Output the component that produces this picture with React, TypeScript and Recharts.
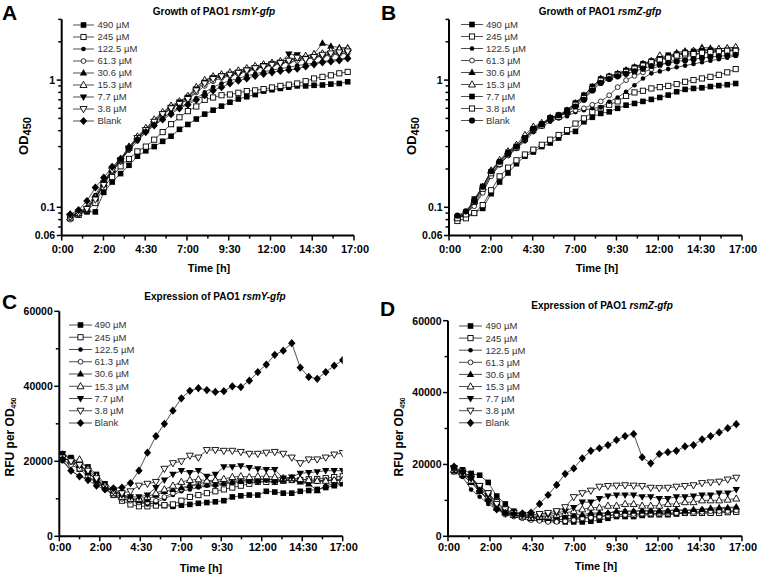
import React from 'react';
import { LineChart, Line, XAxis, YAxis } from 'recharts';

// ---------------- data ----------------
const sampleNo = [1, 2, 3, 4, 5, 6, 7, 8, 9, 10, 11, 12, 13, 14, 15, 16, 17, 18, 19, 20, 21, 22, 23, 24, 25, 26, 27, 28, 29, 30, 31, 32, 33, 34];
const seriesLabels = ['490 µM', '245 µM', '122.5 µM', '61.3 µM', '30.6 µM', '15.3 µM', '7.7 µM', '3.8 µM', 'Blank'];
const timeTickLabels = ['0:00', '2:00', '4:30', '7:00', '9:30', '12:00', '14:30', '17:00'];
const odTickValues = [0.06, 0.07, 0.08, 0.09, 0.1, 0.2, 0.3, 0.4, 0.5, 0.6, 0.7, 0.8, 0.9, 1, 2, 3];
const odTickLabelled = [0.06, 0.1, 1];
const rfuTickValues = [0, 10000, 20000, 30000, 40000, 50000, 60000];
const rfuTickLabelled = [0, 20000, 40000, 60000];

// Panel A: growth rsmY-gfp (OD450)
const a490 = [0.085, 0.088, 0.092, 0.092, 0.131, 0.158, 0.184, 0.214, 0.252, 0.278, 0.300, 0.330, 0.362, 0.410, 0.448, 0.494, 0.540, 0.580, 0.624, 0.670, 0.710, 0.740, 0.770, 0.820, 0.840, 0.860, 0.880, 0.900, 0.900, 0.910, 0.915, 0.930, 0.940, 0.970];
const a245 = [0.082, 0.087, 0.095, 0.108, 0.144, 0.173, 0.210, 0.240, 0.275, 0.300, 0.340, 0.390, 0.450, 0.510, 0.570, 0.620, 0.700, 0.730, 0.760, 0.770, 0.795, 0.820, 0.830, 0.850, 0.875, 0.900, 0.920, 0.940, 0.980, 1.030, 1.060, 1.090, 1.130, 1.160];
const a122 = [0.085, 0.092, 0.100, 0.125, 0.160, 0.200, 0.235, 0.280, 0.330, 0.390, 0.450, 0.500, 0.560, 0.610, 0.660, 0.720, 0.800, 0.880, 0.940, 0.990, 1.030, 1.080, 1.120, 1.160, 1.200, 1.230, 1.260, 1.300, 1.330, 1.360, 1.400, 1.430, 1.460, 1.500];
const a61 = [0.080, 0.088, 0.097, 0.118, 0.150, 0.190, 0.230, 0.285, 0.345, 0.400, 0.460, 0.530, 0.600, 0.650, 0.700, 0.800, 0.900, 0.980, 1.040, 1.080, 1.120, 1.170, 1.220, 1.270, 1.310, 1.350, 1.390, 1.420, 1.460, 1.500, 1.540, 1.570, 1.600, 1.620];
const a30 = [0.084, 0.090, 0.096, 0.118, 0.152, 0.195, 0.235, 0.290, 0.355, 0.410, 0.480, 0.550, 0.620, 0.660, 0.730, 0.870, 0.990, 1.060, 1.100, 1.130, 1.170, 1.220, 1.270, 1.320, 1.360, 1.400, 1.440, 1.480, 1.540, 1.600, 1.950, 1.850, 1.800, 1.800];
const a15 = [0.083, 0.090, 0.098, 0.120, 0.155, 0.200, 0.240, 0.300, 0.360, 0.420, 0.490, 0.560, 0.630, 0.680, 0.750, 0.880, 1.000, 1.070, 1.110, 1.150, 1.190, 1.240, 1.290, 1.330, 1.370, 1.410, 1.450, 1.500, 1.550, 1.600, 1.620, 1.700, 1.750, 1.770];
const a7 = [0.085, 0.091, 0.095, 0.118, 0.155, 0.198, 0.236, 0.292, 0.350, 0.400, 0.470, 0.540, 0.610, 0.670, 0.730, 0.850, 0.960, 1.040, 1.080, 1.110, 1.150, 1.200, 1.250, 1.300, 1.340, 1.380, 1.600, 1.580, 1.480, 1.520, 1.560, 1.600, 1.620, 1.640];
const a3 = [0.084, 0.090, 0.097, 0.115, 0.150, 0.195, 0.232, 0.288, 0.350, 0.405, 0.470, 0.540, 0.600, 0.650, 0.710, 0.830, 0.940, 1.020, 1.070, 1.100, 1.140, 1.190, 1.240, 1.280, 1.320, 1.360, 1.420, 1.500, 1.460, 1.520, 1.580, 1.620, 1.650, 1.680];
const aBlank = [0.088, 0.095, 0.112, 0.143, 0.171, 0.208, 0.240, 0.295, 0.340, 0.390, 0.440, 0.490, 0.540, 0.600, 0.640, 0.700, 0.760, 0.830, 0.880, 0.940, 0.990, 1.030, 1.080, 1.120, 1.150, 1.180, 1.200, 1.230, 1.280, 1.330, 1.380, 1.400, 1.430, 1.480];

// Panel B: growth rsmZ-gfp (OD450)
const b490 = [0.082, 0.086, 0.090, 0.098, 0.128, 0.158, 0.186, 0.220, 0.252, 0.272, 0.300, 0.320, 0.350, 0.390, 0.395, 0.470, 0.510, 0.547, 0.563, 0.600, 0.635, 0.655, 0.680, 0.705, 0.730, 0.762, 0.810, 0.845, 0.860, 0.870, 0.890, 0.905, 0.920, 0.940];
const b245 = [0.078, 0.082, 0.090, 0.104, 0.136, 0.175, 0.205, 0.234, 0.260, 0.284, 0.310, 0.340, 0.370, 0.404, 0.455, 0.500, 0.560, 0.600, 0.640, 0.680, 0.750, 0.800, 0.824, 0.860, 0.880, 0.900, 0.930, 0.970, 1.000, 1.030, 1.060, 1.100, 1.150, 1.220];
const b122 = [0.084, 0.090, 0.105, 0.135, 0.180, 0.220, 0.255, 0.290, 0.330, 0.390, 0.430, 0.470, 0.500, 0.520, 0.560, 0.580, 0.600, 0.610, 0.675, 0.730, 0.810, 0.910, 1.030, 1.130, 1.170, 1.220, 1.260, 1.300, 1.340, 1.380, 1.420, 1.460, 1.500, 1.550];
const b61 = [0.082, 0.089, 0.102, 0.130, 0.175, 0.215, 0.255, 0.290, 0.340, 0.400, 0.440, 0.490, 0.520, 0.550, 0.580, 0.600, 0.640, 0.680, 0.760, 0.880, 1.000, 1.080, 1.150, 1.220, 1.300, 1.380, 1.450, 1.520, 1.580, 1.620, 1.650, 1.680, 1.700, 1.720];
const b30 = [0.084, 0.090, 0.115, 0.145, 0.193, 0.230, 0.272, 0.302, 0.354, 0.420, 0.450, 0.510, 0.530, 0.580, 0.663, 0.760, 0.886, 1.030, 1.075, 1.130, 1.200, 1.270, 1.350, 1.420, 1.450, 1.540, 1.640, 1.700, 1.650, 1.810, 1.780, 1.770, 1.780, 1.800];
const b15 = [0.083, 0.089, 0.112, 0.143, 0.195, 0.235, 0.275, 0.310, 0.370, 0.430, 0.460, 0.500, 0.520, 0.570, 0.650, 0.740, 0.870, 1.000, 1.060, 1.110, 1.180, 1.250, 1.320, 1.400, 1.560, 1.520, 1.600, 1.650, 1.700, 1.750, 1.720, 1.760, 1.780, 1.820];
const b7 = [0.084, 0.091, 0.116, 0.146, 0.190, 0.226, 0.270, 0.300, 0.350, 0.415, 0.450, 0.505, 0.530, 0.580, 0.660, 0.760, 0.890, 1.020, 1.070, 1.120, 1.190, 1.260, 1.340, 1.410, 1.470, 1.570, 1.600, 1.650, 1.680, 1.700, 1.720, 1.700, 1.710, 1.720];
const b3 = [0.082, 0.088, 0.110, 0.140, 0.185, 0.220, 0.262, 0.295, 0.345, 0.405, 0.440, 0.495, 0.515, 0.560, 0.640, 0.720, 0.850, 0.990, 1.050, 1.100, 1.160, 1.230, 1.300, 1.380, 1.440, 1.500, 1.560, 1.620, 1.600, 1.640, 1.660, 1.680, 1.700, 1.700];
const bBlank = [0.086, 0.093, 0.112, 0.145, 0.192, 0.228, 0.265, 0.300, 0.350, 0.410, 0.450, 0.500, 0.530, 0.560, 0.620, 0.700, 0.830, 0.950, 1.020, 1.070, 1.120, 1.170, 1.230, 1.290, 1.330, 1.360, 1.400, 1.430, 1.460, 1.490, 1.520, 1.540, 1.560, 1.580];

// Panel C: expression rsmY-gfp (RFU per OD450)
const c490 = [22000, 21000, 19500, 18500, 16500, 14000, 12500, 11500, 10000, 9500, 9000, 8500, 8200, 8000, 8300, 8500, 8800, 9000, 9200, 9500, 10500, 10800, 11000, 11000, 12000, 11800, 11500, 11500, 12000, 12200, 12500, 13000, 13500, 14000];
const c245 = [21000, 20000, 18000, 17000, 15000, 13000, 11000, 9500, 8500, 8000, 8000, 8200, 8300, 8500, 9500, 10500, 11000, 11500, 12000, 12500, 13000, 13500, 14000, 14500, 14500, 14500, 14800, 15000, 15000, 15200, 15300, 15500, 15800, 16000];
const c122 = [20000, 17500, 16000, 15500, 14500, 13000, 11000, 10000, 9500, 9000, 8500, 9000, 10000, 11000, 12000, 12500, 13000, 13500, 13500, 14000, 14200, 14500, 14500, 14500, 14800, 14500, 15000, 14800, 14500, 14000, 14500, 14800, 15000, 14800];
const c61 = [20500, 19000, 18000, 16000, 14500, 12500, 11000, 10000, 9500, 9000, 9000, 9500, 10500, 11500, 12500, 13500, 14000, 14500, 14800, 14500, 15000, 15000, 15000, 15000, 15200, 15000, 15000, 15000, 14800, 14500, 14800, 15000, 15000, 15200];
const c30 = [22000, 20500, 19000, 17000, 15000, 13500, 12000, 11000, 10000, 9500, 9800, 11000, 12000, 12500, 13000, 13500, 13500, 13800, 14000, 14200, 14500, 14800, 15000, 15000, 15300, 15000, 15000, 15500, 14500, 14000, 12200, 13500, 14000, 14200];
const c15 = [21000, 20000, 20500, 18000, 16000, 13500, 11500, 10500, 10000, 10000, 10500, 11500, 12500, 13500, 14500, 15000, 15200, 14800, 15000, 15300, 15800, 16000, 15800, 16000, 16000, 15800, 15500, 15500, 15300, 15000, 14800, 14800, 15000, 15000];
const c7 = [22000, 20500, 19000, 17000, 15000, 13000, 12000, 11000, 10500, 10500, 11000, 13000, 15000, 16500, 17500, 17000, 17500, 16000, 16500, 18500, 18500, 18800, 18300, 18000, 17800, 17800, 15500, 15800, 16800, 17000, 17200, 17500, 17500, 17500];
const c3 = [21000, 20000, 19000, 17500, 15500, 13000, 12000, 11500, 12000, 13500, 14000, 14500, 18000, 19500, 20000, 21500, 21000, 23000, 23000, 22800, 22800, 22500, 22000, 22000, 22300, 22500, 22000, 21000, 19500, 20500, 20500, 21000, 21800, 22200];
const cBlank = [20500, 17500, 16000, 15000, 13500, 12500, 12800, 13000, 14200, 17500, 22300, 26700, 30000, 33500, 36800, 38800, 39500, 39000, 38500, 38700, 40000, 39800, 41500, 43800, 45800, 48400, 49500, 51500, 45000, 42500, 42000, 43800, 45500, 47000];

// Panel D: expression rsmZ-gfp (RFU per OD450)
const d490 = [18000, 18500, 17500, 17000, 15000, 11200, 9000, 7000, 6000, 5500, 5000, 4500, 4200, 4000, 4000, 4000, 4200, 4500, 5000, 5500, 5500, 5500, 5800, 6000, 6000, 6000, 6200, 6500, 6500, 6500, 6500, 6800, 6800, 7000];
const d245 = [19000, 17500, 16000, 14000, 12000, 9500, 7500, 6000, 5500, 5000, 4800, 4500, 4500, 4800, 5000, 5000, 5500, 5500, 5800, 6000, 6000, 6000, 6200, 6200, 6300, 6300, 6500, 6500, 6500, 6500, 6500, 6500, 6700, 6800];
const d122 = [18000, 16500, 13000, 11000, 9000, 7500, 6500, 5800, 5500, 5200, 4800, 4500, 4500, 4800, 5000, 5500, 6000, 6300, 6500, 6800, 7000, 7000, 7200, 7200, 7000, 7200, 7300, 7300, 7300, 7500, 7500, 7600, 7800, 8000];
const d61 = [18000, 17000, 15000, 12500, 10000, 7500, 6000, 5500, 5000, 4500, 4300, 4000, 4000, 4200, 4500, 5000, 5200, 5500, 5800, 6000, 6000, 6200, 6300, 6300, 6500, 6500, 6500, 6500, 6800, 6800, 7000, 7000, 7000, 7200];
const d30 = [18500, 17000, 15000, 12500, 10500, 8000, 6500, 5800, 5500, 5000, 5200, 5000, 5500, 5500, 6000, 6000, 6500, 6500, 6500, 7000, 7000, 7000, 7000, 7000, 7000, 7000, 7500, 7000, 7500, 7500, 7800, 8000, 8000, 8200];
const d15 = [18500, 17500, 15500, 13000, 11000, 8000, 6800, 6000, 5500, 5200, 5500, 5500, 6000, 6500, 7000, 7500, 8000, 8000, 8500, 8500, 9000, 9000, 8500, 8500, 8500, 9000, 9000, 9500, 9500, 10000, 10000, 10000, 10200, 10500];
const d7 = [18500, 17500, 16000, 13500, 11500, 8500, 7000, 6000, 5800, 5500, 5800, 6000, 6500, 7000, 8000, 9500, 9500, 10500, 11200, 11500, 11500, 11500, 11000, 11000, 10500, 10500, 11000, 11000, 11200, 11500, 11500, 12000, 12000, 13000];
const d3 = [19000, 18000, 16500, 14000, 12000, 9000, 7500, 6500, 6000, 6000, 6200, 6500, 7000, 8100, 10900, 12000, 12700, 13800, 14000, 14100, 14200, 14100, 14000, 13500, 13400, 13500, 13800, 14000, 14200, 14800, 15000, 15200, 15800, 16300];
const dBlank = [19400, 18000, 16600, 12700, 10000, 7500, 6500, 6200, 6400, 6600, 9000, 11500, 14300, 17400, 18900, 21700, 23800, 24500, 25400, 26800, 27900, 28500, 22000, 20300, 22900, 23400, 23800, 25000, 25400, 27000, 27900, 28900, 30100, 31200];

// ---------------- styling / layout ----------------
const FONT = '"Liberation Sans", Arial, Helvetica, sans-serif';
type Shape = 'sqF' | 'sqO' | 'cirS' | 'cirO' | 'cirF' | 'triUF' | 'triUO' | 'triDF' | 'triDO' | 'dia';
const shapesStd: Shape[] = ['sqF', 'sqO', 'cirS', 'cirO', 'triUF', 'triUO', 'triDF', 'triDO', 'dia'];
const shapesB: Shape[] = ['sqF', 'sqO', 'cirS', 'cirO', 'triUF', 'triUO', 'sqF', 'sqO', 'cirF'];

function Marker({ shape, cx, cy }: { shape: Shape; cx: number; cy: number }) {
  const k = '#000';
  const sw = 0.9;
  switch (shape) {
    case 'sqF':
      return <rect x={cx - 2.8} y={cy - 2.8} width={5.6} height={5.6} fill={k} />;
    case 'sqO':
      return <rect x={cx - 2.6} y={cy - 2.6} width={5.2} height={5.2} fill="#fff" stroke={k} strokeWidth={sw} />;
    case 'cirS':
      return <circle cx={cx} cy={cy} r={2.3} fill={k} />;
    case 'cirO':
      return <circle cx={cx} cy={cy} r={2.4} fill="#fff" stroke={k} strokeWidth={0.8} />;
    case 'cirF':
      return <circle cx={cx} cy={cy} r={3.1} fill={k} />;
    case 'triUF':
      return <polygon points={`${cx},${cy - 3.9} ${cx + 3.7},${cy + 2.6} ${cx - 3.7},${cy + 2.6}`} fill={k} />;
    case 'triUO':
      return <polygon points={`${cx},${cy - 3.7} ${cx + 3.5},${cy + 2.5} ${cx - 3.5},${cy + 2.5}`} fill="#fff" stroke={k} strokeWidth={sw} />;
    case 'triDF':
      return <polygon points={`${cx},${cy + 3.9} ${cx + 3.7},${cy - 2.6} ${cx - 3.7},${cy - 2.6}`} fill={k} />;
    case 'triDO':
      return <polygon points={`${cx},${cy + 3.7} ${cx + 3.5},${cy - 2.5} ${cx - 3.5},${cy - 2.5}`} fill="#fff" stroke={k} strokeWidth={sw} />;
    case 'dia':
    default:
      return <polygon points={`${cx},${cy - 4.1} ${cx + 3.7},${cy} ${cx},${cy + 4.1} ${cx - 3.7},${cy}`} fill={k} />;
  }
}

interface PanelCfg {
  id: string;
  left: number;
  right: number;
  top: number;
  bottom: number;
  xDomain: [number, number];
  log: boolean;
  yDomain: [number, number];
  yTicks: number[];
  yLabelled: number[];
  series: number[][];
  shapes: Shape[];
  xTickBaseline: number;
}

const panels: PanelCfg[] = [
  {
    id: 'A', left: 61.7, right: 354, top: 19.4, bottom: 235.5, xDomain: [0, 34.75], log: true,
    yDomain: [0.06, 3], yTicks: odTickValues, yLabelled: odTickLabelled,
    series: [a490, a245, a122, a61, a30, a15, a7, a3, aBlank], shapes: shapesStd, xTickBaseline: 252.5,
  },
  {
    id: 'B', left: 449, right: 742, top: 19.4, bottom: 235.5, xDomain: [0, 34.75], log: true,
    yDomain: [0.06, 3], yTicks: odTickValues, yLabelled: odTickLabelled,
    series: [b490, b245, b122, b61, b30, b15, b7, b3, bBlank], shapes: shapesB, xTickBaseline: 252.5,
  },
  {
    id: 'C', left: 59.3, right: 342.7, top: 311.3, bottom: 536.3, xDomain: [0.62, 34.0], log: false,
    yDomain: [0, 60000], yTicks: rfuTickValues, yLabelled: rfuTickLabelled,
    series: [c490, c245, c122, c61, c30, c15, c7, c3, cBlank], shapes: shapesStd, xTickBaseline: 551,
  },
  {
    id: 'D', left: 448, right: 742, top: 320.7, bottom: 536.3, xDomain: [0.3, 34.67], log: false,
    yDomain: [0, 60000], yTicks: rfuTickValues, yLabelled: rfuTickLabelled,
    series: [d490, d245, d122, d61, d30, d15, d7, d3, dBlank], shapes: shapesStd, xTickBaseline: 551,
  },
];

const W = 758;
const H = 575;
const Y_AXIS_W = 40;
const X_AXIS_H = 20;

function xTicksFor(d: [number, number]) {
  const out: number[] = [];
  for (let k = 0; k <= 14; k++) out.push(d[0] + ((d[1] - d[0]) * k) / 14);
  return out;
}

function PanelChart({ cfg }: { cfg: PanelCfg }) {
  const rows = sampleNo.map((s, i) => {
    const r: Record<string, number> = { s };
    cfg.series.forEach((ser, j) => {
      r[`v${j}`] = ser[i];
    });
    return r;
  });
  const xt = xTicksFor(cfg.xDomain);
  const margin = {
    top: cfg.top,
    left: cfg.left - Y_AXIS_W,
    right: W - cfg.right,
    bottom: H - cfg.bottom - X_AXIS_H,
  };

  const renderXTick = (p: any) => {
    const v = p.payload.value as number;
    const k = Math.round(((v - cfg.xDomain[0]) / (cfg.xDomain[1] - cfg.xDomain[0])) * 14);
    const major = k % 2 === 0;
    return (
      <g key={`xt-${cfg.id}-${k}`}>
        <line x1={p.x} x2={p.x} y1={cfg.bottom} y2={cfg.bottom + (major ? 5 : 3)} stroke="#000" strokeWidth={1.5} />
        {major && (
          <text x={p.x + 1} y={cfg.xTickBaseline} textAnchor="middle" fontFamily={FONT} fontWeight="bold" fontSize={11} fill="#000">
            {timeTickLabels[k / 2]}
          </text>
        )}
      </g>
    );
  };

  const renderYTick = (p: any) => {
    const v = p.payload.value as number;
    const labelled = cfg.yLabelled.some((t) => Math.abs(t - v) < 1e-9);
    return (
      <g key={`yt-${cfg.id}-${v}`}>
        <line x1={cfg.left - (labelled ? 5 : 3.5)} x2={cfg.left} y1={p.y} y2={p.y} stroke="#000" strokeWidth={1.5} />
        {labelled && (
          <text x={cfg.left - 6.5} y={p.y + 3.8} textAnchor="end" fontFamily={FONT} fontWeight="bold" fontSize={10.5} fill="#000">
            {String(v)}
          </text>
        )}
      </g>
    );
  };

  return (
    <div style={{ position: 'absolute', left: 0, top: 0 }}>
      <LineChart width={W} height={H} data={rows} margin={margin}>
        <XAxis
          dataKey="s"
          type="number"
          domain={cfg.xDomain}
          ticks={xt}
          interval={0}
          allowDataOverflow
          height={X_AXIS_H}
          axisLine={{ stroke: '#000', strokeWidth: 2 }}
          tickLine={false}
          tick={renderXTick}
        />
        <YAxis
          type="number"
          scale={cfg.log ? 'log' : 'linear'}
          domain={cfg.yDomain}
          ticks={cfg.yTicks}
          interval={0}
          allowDataOverflow
          width={Y_AXIS_W}
          axisLine={{ stroke: '#000', strokeWidth: 2 }}
          tickLine={false}
          tick={renderYTick}
        />
        {cfg.series.map((_, j) => (
          <Line
            key={`${cfg.id}-l${j}`}
            dataKey={`v${j}`}
            type="linear"
            stroke="#222"
            strokeWidth={0.8}
            isAnimationActive={false}
            activeDot={false}
            dot={(p: any) => {
              if (p.cx == null || p.cy == null || isNaN(p.cx) || isNaN(p.cy)) return <g key={`${cfg.id}-d${j}-${p.index}`} />;
              return (
                <g key={`${cfg.id}-d${j}-${p.index}`}>
                  <Marker shape={cfg.shapes[j]} cx={p.cx} cy={p.cy} />
                </g>
              );
            }}
          />
        ))}
      </LineChart>
    </div>
  );
}

interface LegendCfg {
  shapes: Shape[];
  x0: number;
  x1: number;
  tx: number;
  y0: number;
  step: number;
}

const legends: LegendCfg[] = [
  { shapes: shapesStd, x0: 73, x1: 94, tx: 97.5, y0: 25, step: 12 },
  { shapes: shapesB, x0: 461, x1: 483, tx: 486, y0: 24.5, step: 12 },
  { shapes: shapesStd, x0: 69, x1: 92, tx: 94.5, y0: 325, step: 12.25 },
  { shapes: shapesStd, x0: 459, x1: 482, tx: 485.5, y0: 326, step: 12.1 },
];

function Legends() {
  return (
    <g>
      {legends.map((lg, li) => (
        <g key={`lg${li}`}>
          {seriesLabels.map((lab, j) => {
            const y = lg.y0 + j * lg.step;
            const cx = (lg.x0 + lg.x1) / 2;
            return (
              <g key={`lg${li}-${j}`}>
                <line x1={lg.x0} x2={lg.x1} y1={y} y2={y} stroke="#222" strokeWidth={0.8} />
                <Marker shape={lg.shapes[j]} cx={cx} cy={y} />
                <text x={lg.tx} y={y + 3.4} fontFamily={FONT} fontSize={9.5} fill="#333">
                  {lab}
                </text>
              </g>
            );
          })}
        </g>
      ))}
    </g>
  );
}

function Labels() {
  const bold = { fontFamily: FONT, fontWeight: 'bold' as const, fill: '#000' };
  return (
    <g>
      {/* panel letters */}
      <text x={2} y={20} {...bold} fontSize={21}>A</text>
      <text x={381} y={20} {...bold} fontSize={21}>B</text>
      <text x={2} y={309} {...bold} fontSize={21}>C</text>
      <text x={380} y={316} {...bold} fontSize={21}>D</text>

      {/* titles */}
      <text x={214} y={15} textAnchor="middle" {...bold} fontSize={10}>
        Growth of PAO1 <tspan fontStyle="italic">rsmY-gfp</tspan>
      </text>
      <text x={600} y={15} textAnchor="middle" {...bold} fontSize={10}>
        Growth of PAO1 <tspan fontStyle="italic">rsmZ-gfp</tspan>
      </text>
      <text x={215} y={300} textAnchor="middle" {...bold} fontSize={10}>
        Expression of PAO1 <tspan fontStyle="italic">rsmY-gfp</tspan>
      </text>
      <text x={602} y={309} textAnchor="middle" {...bold} fontSize={10}>
        Expression of PAO1 <tspan fontStyle="italic">rsmZ-gfp</tspan>
      </text>

      {/* x-axis titles */}
      <text x={209} y={271.5} textAnchor="middle" {...bold} fontSize={11}>Time [h]</text>
      <text x={597} y={271.5} textAnchor="middle" {...bold} fontSize={11}>Time [h]</text>
      <text x={201} y={572} textAnchor="middle" {...bold} fontSize={11}>Time [h]</text>
      <text x={596} y={570} textAnchor="middle" {...bold} fontSize={11}>Time [h]</text>

      {/* y-axis titles */}
      <text x={0} y={0} transform="translate(28,136) rotate(-90)" textAnchor="middle" {...bold} fontSize={13}>
        OD<tspan fontSize={11} dy={3}>450</tspan>
      </text>
      <text x={0} y={0} transform="translate(416,136) rotate(-90)" textAnchor="middle" {...bold} fontSize={13}>
        OD<tspan fontSize={11} dy={3}>450</tspan>
      </text>
      <text x={0} y={0} transform="translate(13.5,437) rotate(-90)" textAnchor="middle" {...bold} fontSize={12}>
        RFU per OD<tspan fontSize={6.5} dy={2}>450</tspan>
      </text>
      <text x={0} y={0} transform="translate(402.5,437) rotate(-90)" textAnchor="middle" {...bold} fontSize={12}>
        RFU per OD<tspan fontSize={6.5} dy={2}>450</tspan>
      </text>
    </g>
  );
}

export default function App() {
  return (
    <div style={{ position: 'absolute', left: 0, top: 0, width: W, height: H, background: '#fff', overflow: 'hidden' }}>
      {panels.map((p) => (
        <PanelChart key={p.id} cfg={p} />
      ))}
      <svg width={W} height={H} style={{ position: 'absolute', left: 0, top: 0, pointerEvents: 'none' }}>
        <Labels />
        <Legends />
      </svg>
    </div>
  );
}
